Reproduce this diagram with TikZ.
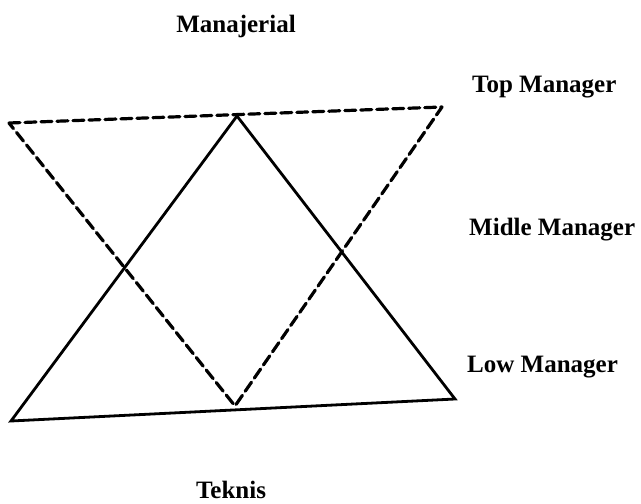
\documentclass[tikz,border=0pt]{standalone}
\usepackage{fontspec}
\setmainfont{Liberation Serif}
\usepackage{tikz}

\begin{document}
\begin{tikzpicture}[x=1pt,y=-1pt,
  lbl/.style={font=\fontsize{25}{28}\selectfont\bfseries,inner sep=0pt},
  solidline/.style={draw,line width=2.8pt,line join=miter},
  dashline/.style={draw,line width=3.2pt,dash pattern=on 11pt off 5pt,line cap=round,line join=round}
]
\useasboundingbox (0,0) rectangle (641,504);
% solid triangle
\coordinate (stop) at (237,116);
\coordinate (sleft) at (11,421);
\coordinate (sright) at (455,399);
% dashed triangle
\coordinate (dleft) at (9,123);
\coordinate (dright) at (442,107);
\coordinate (dbot) at (235,406);
\draw[dashline] (dleft) -- (dright) -- (dbot) -- cycle;
\draw[solidline] (stop) -- (sright) -- (sleft) -- cycle;
% labels
\node[lbl,anchor=base] (manaj) at (236,32) {Manajerial};
\node[lbl,anchor=base] (teknis) at (231,498) {Teknis};
\node[lbl,anchor=base west] (top) at (472,92) {Top Manager};
\node[lbl,anchor=base west] (mid) at (469,235) {Midle Manager};
\node[lbl,anchor=base west] (low) at (467,372) {Low Manager};
\end{tikzpicture}
\end{document}
